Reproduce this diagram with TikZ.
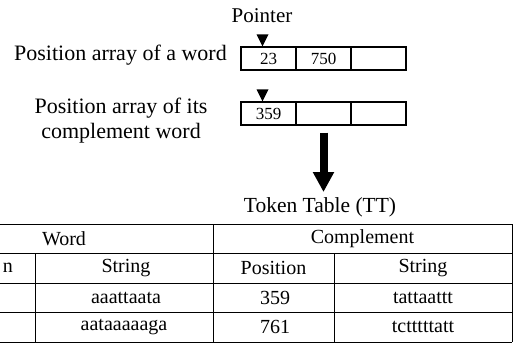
\documentclass[tikz,border=0pt]{standalone}
\usepackage{fontspec}
\setmainfont{Liberation Serif}
\usetikzlibrary{arrows.meta}
\begin{document}
\begin{tikzpicture}[x=1pt,y=-1pt,
  lbl/.style={font=\fontsize{22}{25}\selectfont, inner sep=0pt},
  cellbox/.style={draw, line width=1.4pt, minimum width=55pt, minimum height=23pt,
                  inner sep=0pt, font=\fontsize{17}{19}\selectfont},
  tbl/.style={font=\fontsize{20}{22}\selectfont, inner sep=0pt},
  rule/.style={line width=1pt},
  bigarrow/.style={line width=8pt, -{Triangle[width=20pt,length=20pt]}}]
\useasboundingbox (0,0) rectangle (514,345);

% position array of the word
\node[cellbox] (a1) at (268.5,58.5) {23};
\node[cellbox] (a2) at (323.5,58.5) {750};
\node[cellbox] (a3) at (378.5,58.5) {};
% position array of the complement word
\node[cellbox] (b1) at (268.5,113.5) {359};
\node[cellbox] (b2) at (323.5,113.5) {};
\node[cellbox] (b3) at (378.5,113.5) {};

% pointers onto the first cells
\fill ([xshift=-6pt]a1.north) -- ++(-6,-12) -- ++(12,0) -- cycle;
\fill ([xshift=-6pt]b1.north) -- ++(-6,-12) -- ++(12,0) -- cycle;

\node[lbl, font=\fontsize{21}{24}\selectfont, anchor=base] (ptr) at (262,23) {Pointer};
\node[lbl, anchor=base east] (l1) at (227,60) {Position array of a word};
\node[lbl, align=center, anchor=north] (l2) at (121,98) {Position array of its\\complement word};

% token table title and arrow
\node[lbl, font=\fontsize{21.5}{24}\selectfont] (tt) at (320,207) {Token Table (TT)};
\draw[bigarrow] ([yshift=-7pt]b2.south) -- ([yshift=5pt]b2.south |- tt.north);

% token table grid (its first column runs off the left edge)
\draw[rule] (0,224) -- (512,224);
\draw[rule] (0,253) -- (512,253);
\draw[rule] (0,283) -- (512,283);
\draw[rule] (0,312) -- (512,312);
\draw[rule] (0,342) -- (512,342);
\draw[rule] (512,224) -- (512,342);
\draw[rule] (213,224) -- (213,342);
\draw[rule] (35,253) -- (35,342);
\draw[rule] (334,253) -- (334,342);

\node[tbl] (hw) at (64,238.5) {Word};
\node[tbl, anchor=east] (hp1) at (13,268) {n};
\node[tbl] (hc) at (362.5,238.5) {Complement};
\node[tbl] (hs1) at (126,268) {String};
\node[tbl] (hp2) at (273.5,268) {Position};
\node[tbl] (hs2) at (423,268) {String};
\node[tbl] (r1s) at (126,297.5) {aaattaata};
\node[tbl] (r1p) at (275,297.5) {359};
\node[tbl] (r1c) at (423,297.5) {tattaattt};
\node[tbl] (r2s) at (124,327) {aataaaaaga};
\node[tbl] (r2p) at (275,327) {761};
\node[tbl] (r2c) at (423,327) {tctttttatt};
\end{tikzpicture}
\end{document}
